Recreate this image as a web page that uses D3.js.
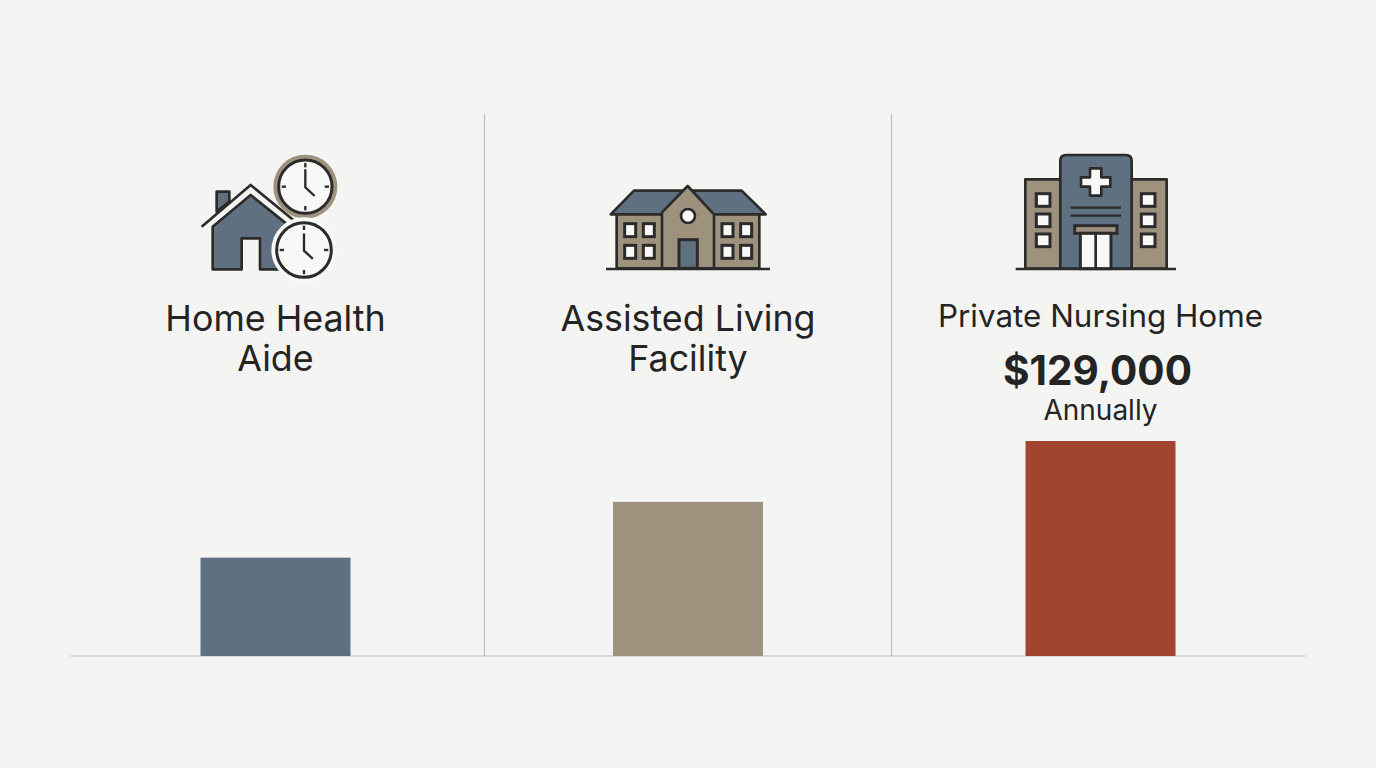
<!DOCTYPE html>
<html>
<head>
<meta charset="utf-8">
<script src="https://cdn.jsdelivr.net/npm/d3@7"></script>
<style>
  html, body { margin: 0; padding: 0; background: #f4f4f3; overflow: hidden; }
  text { font-family: Inter, Roboto, sans-serif; fill: #242424; }
</style>
</head>
<body>
<svg id="chart" width="1376" height="768"></svg>
<script>
// Chart data, only the last value is printed on the picture
var categories = ["Home Health Aide", "Assisted Living Facility", "Private Nursing Home"];
var costs = [59000, 92500, 129000];
var barColors = ["#5f7180", "#9e927e", "#a14530"];
var nameLines = [["Home Health", "Aide"], ["Assisted Living", "Facility"], ["Private Nursing Home"]];
var costLabels = [null, null, "$129,000"];
var periodLabels = [null, null, "Annually"];

var dark = "#2b2b2b", slate = "#5f7180", taupe = "#9e927e", white = "#f8f8f7";

var svg = d3.select("#chart");
var baseY = 656;

var x = d3.scalePoint().domain(categories).range([275.5, 1100.5]);
var y = d3.scaleLinear().domain([0, 129000]).range([baseY, 441]);
var barWidth = 150;

// Column dividers and baseline
svg.selectAll("line.divider")
    .data([484.5, 891.5])
    .enter().append("line")
    .attr("class", "divider")
    .attr("x1", d => d).attr("x2", d => d)
    .attr("y1", 114).attr("y2", baseY)
    .attr("stroke", "#bdbdbc").attr("stroke-width", 1.2);

svg.append("line")
    .attr("x1", 70).attr("x2", 1306)
    .attr("y1", baseY).attr("y2", baseY)
    .attr("stroke", "#bdbdbc").attr("stroke-width", 1.2);

// Bars
svg.selectAll("rect.bar")
    .data(categories)
    .enter().append("rect")
    .attr("class", "bar")
    .attr("x", d => x(d) - barWidth / 2)
    .attr("y", (d, i) => y(costs[i]))
    .attr("width", barWidth)
    .attr("height", (d, i) => baseY - y(costs[i]))
    .attr("fill", (d, i) => barColors[i]);

// Category names
categories.forEach(function(cat, i) {
    var lines = nameLines[i];
    var size = lines.length > 1 ? 35.8 : 31.4;
    lines.forEach(function(line, j) {
        svg.append("text")
            .attr("x", x(cat))
            .attr("y", lines.length > 1 ? 331 + j * 40 : 327)
            .attr("text-anchor", "middle")
            .attr("font-size", size)
            .text(line);
    });
    if (costLabels[i]) {
        svg.append("text")
            .attr("x", x(cat) - 3).attr("y", 385)
            .attr("text-anchor", "middle")
            .attr("font-size", 40.5).attr("font-weight", 700)
            .text(costLabels[i]);
    }
    if (periodLabels[i]) {
        svg.append("text")
            .attr("x", x(cat)).attr("y", 420)
            .attr("text-anchor", "middle")
            .attr("font-size", 28)
            .text(periodLabels[i]);
    }
});

// Icon helpers, icons are drawn at 3x and scaled down
function icon(px, py) {
    return svg.append("g").attr("transform", "translate(" + px + "," + py + ") scale(0.3333)");
}
function shape(g, d, fill, sw) {
    return g.append("path").attr("d", d)
        .attr("fill", fill || "none")
        .attr("stroke", dark).attr("stroke-width", sw || 8)
        .attr("stroke-linejoin", "round");
}
function box(g, bx, by, w, h, fill, sw) {
    return g.append("rect").attr("x", bx).attr("y", by).attr("width", w).attr("height", h)
        .attr("fill", fill).attr("stroke", dark).attr("stroke-width", sw || 9);
}

function clock(g, cx, cy, r, ring, handScale) {
    g.append("circle").attr("cx", cx).attr("cy", cy).attr("r", r + 16)
        .attr("fill", ring).attr("stroke", "none");
    g.append("circle").attr("cx", cx).attr("cy", cy).attr("r", r)
        .attr("fill", white).attr("stroke", dark).attr("stroke-width", 9);
    [0, 90, 180, 270].forEach(function(a) {
        var t = a * Math.PI / 180, r1 = r - 22, r2 = r - 9;
        g.append("line")
            .attr("x1", cx + r1 * Math.sin(t)).attr("y1", cy - r1 * Math.cos(t))
            .attr("x2", cx + r2 * Math.sin(t)).attr("y2", cy - r2 * Math.cos(t))
            .attr("stroke", dark).attr("stroke-width", 7);
    });
    g.append("path")
        .attr("d", "M" + cx + "," + (cy - 52 * handScale) + "V" + (cy + 2) + "L" + (cx + 28 * handScale) + "," + (cy + 28 * handScale))
        .attr("fill", "none").attr("stroke", dark).attr("stroke-width", 7);
}

// Home with two clocks
var home = icon(190, 145);
shape(home, "M80,200V140H118V170Z", slate);
shape(home, "M68,245L182,150L300,245V373H210V280H155V373H68Z", slate);
shape(home, "M35,245L182,120L310,225", "none", 8);
clock(home, 346, 125, 80, taupe, 1);
clock(home, 342, 315, 82, white, 0.95);

// Assisted living building
var hall = icon(600, 175);
shape(hall, "M32,118L102,47H425L497,118Z", slate);
shape(hall, "M50,118H478V280H50Z", taupe);
shape(hall, "M186,280V112L263,33L342,118V280Z", taupe);
hall.append("circle").attr("cx", 264).attr("cy", 123).attr("r", 21)
    .attr("fill", white).attr("stroke", dark).attr("stroke-width", 8);
box(hall, 237, 194, 55, 86, slate);
[74, 130, 366, 422].forEach(function(wx) {
    [146, 211].forEach(function(wy) { box(hall, wx, wy, 33, 39, white); });
});
shape(hall, "M18,282H510", "none", 8);

// Hospital
var hosp = icon(1010, 145);
shape(hosp, "M46,103H470V371H46Z", taupe);
shape(hosp, "M151,371V48Q151,30 169,30H347Q365,30 365,48V371Z", slate);
shape(hosp, "M240,70H274V97H301V125H274V152H240V125H213V97H240Z", white);
shape(hosp, "M182,188H333M182,212H333", "none", 7);
box(hosp, 194, 242, 127, 23, taupe);
box(hosp, 211, 265, 92, 106, white);
hosp.append("line").attr("x1", 257).attr("x2", 257).attr("y1", 265).attr("y2", 371)
    .attr("stroke", dark).attr("stroke-width", 8);
[79, 394].forEach(function(wx) {
    [146, 207, 267].forEach(function(wy) { box(hosp, wx, wy, 41, 38, white); });
});
shape(hosp, "M17,372H498", "none", 8);
</script>
</body>
</html>
